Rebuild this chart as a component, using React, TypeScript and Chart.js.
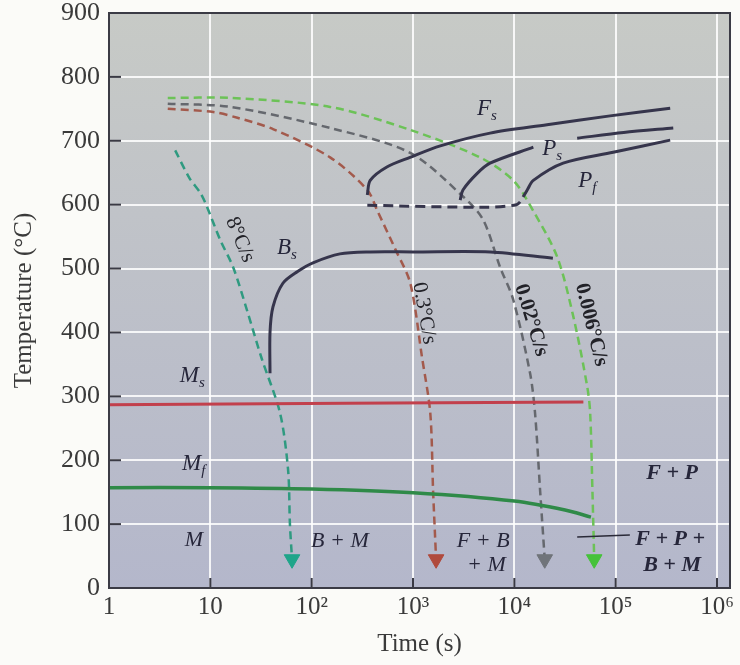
import React, { useEffect, useRef } from "react";
import { Chart, registerables } from "chart.js";

Chart.register(...registerables);

const FONT = "'Liberation Serif', 'Times New Roman', serif";

// Axis ticks
const xTickValues = [1, 10, 100, 1000, 10000, 100000, 1000000];
const xTickLabels = ["1", "10", "10²", "10³", "10⁴", "10⁵", "10⁶"];
const yTickValues = [0, 100, 200, 300, 400, 500, 600, 700, 800, 900];

// Cooling curves (time s, temperature °C)
const rate8Time = [4.5, 6.2, 8, 9.3, 12.5, 16.8, 23.5, 32, 48.7, 58.5, 61, 64];
const rate8Temp = [685, 642, 618, 596, 545, 502, 430, 360, 274, 185, 100, 45];

const rate03Time = [3.8, 10.7, 18.5, 42, 152, 354, 446, 670, 940, 1230, 1480, 1580, 1690];
const rate03Temp = [750, 745, 736, 718, 674, 623, 590, 530, 477, 360, 274, 150, 45];

const rate002Time = [3.8, 15.8, 152, 940, 3150, 4930, 7240, 9760, 14300, 16000, 18000, 19950];
const rate002Temp = [758, 753, 720, 681, 612, 576, 502, 451, 336, 274, 150, 45];

const rate0006Time = [3.8, 15.8, 152, 940, 4590, 9760, 15400, 26500, 38300, 52400, 56000, 59000, 61400];
const rate0006Temp = [767, 767, 753, 717, 674, 638, 590, 518, 424, 315, 274, 150, 45];

// Transformation curves
const fsTime = [354, 378, 552, 935, 1860, 5760, 21000, 88000, 345000];
const fsTemp = [615, 638, 659, 674, 692, 712, 725, 739, 751];

const psTimeA = [2920, 3110, 4300, 5760, 15400];
const psTempA = [607, 623, 649, 665, 690];
const psTimeB = [41700, 120000, 370000];
const psTempB = [704, 713, 720];

const pfTime = [12200, 13400, 15400, 30300, 94500, 345000];
const pfTemp = [612, 623, 638, 665, 682, 701];

const bsTime = [38.8, 38.8, 41.5, 52, 72, 103, 190, 380, 1000, 5800, 24000];
const bsTemp = [336, 400, 440, 477, 495, 509, 523, 526, 526, 526, 516];

const dashTime = [354, 5000, 10500, 12200];
const dashTemp = [599, 596, 600, 610];

const msTime = [1, 48000];
const msTemp = [287, 291];

const mfTime = [1, 10, 100, 1000, 10000, 31600, 57000];
const mfTemp = [157, 157, 155, 149, 136, 122, 111];

const leaderTime = [41700, 138000];
const leaderTemp = [80, 83];

// Text annotations (data coordinates)
const subLabels = [
  { text: "F", sub: "s", t: 4270, T: 740 },
  { text: "P", sub: "s", t: 18800, T: 678 },
  { text: "P", sub: "f", t: 42600, T: 628 },
  { text: "B", sub: "s", t: 45.5, T: 523 },
  { text: "M", sub: "s", t: 5.0, T: 322 },
  { text: "M", sub: "f", t: 5.25, T: 185 },
];
const phaseLabels = [
  { text: "M", t: 6.9, T: 66, bold: false },
  { text: "B + M", t: 190, T: 64, bold: false },
  { text: "F + B", t: 4930, T: 64, bold: false },
  { text: "+ M", t: 5300, T: 27, bold: false },
  { text: "F + P", t: 360000, T: 171, bold: true },
  { text: "F + P +", t: 345000, T: 67, bold: true },
  { text: "B + M", t: 360000, T: 27, bold: true },
];
const rateLabels = [
  { text: "8°C/s", t: 19.6, T: 545, angle: 67, bold: false },
  { text: "0.3°C/s", t: 1290, T: 430, angle: 80, bold: false },
  { text: "0.02°C/s", t: 14650, T: 419, angle: 73, bold: true },
  { text: "0.006°C/s", t: 57300, T: 412, angle: 76, bold: true },
];

const pts = (xs: number[], ys: number[]) => xs.map((x, i) => ({ x, y: ys[i] }));

function solid(label: string, xs: number[], ys: number[], color: string, width = 3) {
  return {
    label,
    data: pts(xs, ys),
    showLine: true,
    borderColor: color,
    borderWidth: width,
    pointRadius: 0,
    tension: 0.3,
    fill: false,
  };
}

function cooling(label: string, xs: number[], ys: number[], color: string, arrow: string) {
  const n = xs.length;
  return {
    label,
    data: pts(xs, ys),
    showLine: true,
    borderColor: color,
    borderWidth: 2.5,
    borderDash: [8, 5],
    tension: 0.3,
    fill: false,
    pointStyle: "triangle",
    rotation: 180,
    pointRadius: xs.map((_, i) => (i === n - 1 ? 9 : 0)),
    pointBackgroundColor: arrow,
    pointBorderColor: arrow,
    pointBorderWidth: 1,
  };
}

const decorPlugin = {
  id: "decor",
  beforeDraw(chart: any) {
    const { ctx, chartArea: a, width, height } = chart;
    ctx.save();
    ctx.fillStyle = "#fbfbf8";
    ctx.fillRect(0, 0, width, height);
    const g = ctx.createLinearGradient(0, a.top, 0, a.bottom);
    g.addColorStop(0, "#c7cac6");
    g.addColorStop(0.35, "#c0c3c8");
    g.addColorStop(1, "#b4b7cb");
    ctx.fillStyle = g;
    ctx.fillRect(a.left, a.top, a.right - a.left, a.bottom - a.top);
    ctx.restore();
  },
  afterDatasetsDraw(chart: any) {
    const { ctx, chartArea: a, scales } = chart;
    const xs = scales.x;
    const ys = scales.y;
    ctx.save();
    // inner tick marks
    ctx.strokeStyle = "#3a3a44";
    ctx.lineWidth = 2;
    yTickValues.forEach((v) => {
      if (v === 0 || v === 900) return;
      const py = ys.getPixelForValue(v);
      ctx.beginPath();
      ctx.moveTo(a.left, py);
      ctx.lineTo(a.left + 12, py);
      ctx.stroke();
    });
    xTickValues.forEach((v) => {
      if (v === 1) return;
      const px = xs.getPixelForValue(v);
      ctx.beginPath();
      ctx.moveTo(px, a.bottom);
      ctx.lineTo(px, a.bottom - 10);
      ctx.stroke();
    });
    // frame
    ctx.strokeStyle = "#3b3b45";
    ctx.lineWidth = 2;
    ctx.strokeRect(a.left, a.top, a.right - a.left, a.bottom - a.top);

    ctx.fillStyle = "#26263a";
    // labels with subscripts
    subLabels.forEach((l) => {
      const px = xs.getPixelForValue(l.t);
      const py = ys.getPixelForValue(l.T);
      ctx.font = `italic 23px ${FONT}`;
      ctx.textAlign = "left";
      ctx.textBaseline = "alphabetic";
      ctx.fillText(l.text, px, py);
      const w = ctx.measureText(l.text).width;
      ctx.font = `italic 15px ${FONT}`;
      ctx.fillText(l.sub, px + w, py + 5);
    });
    // phase region labels
    phaseLabels.forEach((l) => {
      const px = xs.getPixelForValue(l.t);
      const py = ys.getPixelForValue(l.T);
      ctx.font = `italic ${l.bold ? "bold " : ""}22px ${FONT}`;
      ctx.textAlign = "center";
      ctx.textBaseline = "alphabetic";
      ctx.fillText(l.text, px, py);
    });
    // cooling rate labels
    rateLabels.forEach((l) => {
      const px = xs.getPixelForValue(l.t);
      const py = ys.getPixelForValue(l.T);
      ctx.save();
      ctx.translate(px, py);
      ctx.rotate((l.angle * Math.PI) / 180);
      ctx.font = `${l.bold ? "bold " : ""}21px ${FONT}`;
      ctx.textAlign = "center";
      ctx.textBaseline = "middle";
      ctx.fillStyle = "#222228";
      ctx.fillText(l.text, 0, 0);
      ctx.restore();
    });
    ctx.restore();
  },
};

export default function App() {
  const ref = useRef<HTMLCanvasElement | null>(null);

  useEffect(() => {
    if (!ref.current) return;
    const chart = new Chart(ref.current, {
      type: "scatter",
      data: {
        datasets: [
          solid("Ms", msTime, msTemp, "#c2404c", 3),
          solid("Mf", mfTime, mfTemp, "#2f8a48", 3.5),
          solid("Bs", bsTime, bsTemp, "#36354c", 3),
          solid("Fs", fsTime, fsTemp, "#36354c", 3),
          solid("Ps", psTimeA, psTempA, "#36354c", 3),
          solid("Ps2", psTimeB, psTempB, "#36354c", 3),
          solid("Pf", pfTime, pfTemp, "#36354c", 3),
          { ...solid("600", dashTime, dashTemp, "#36354c", 3), borderDash: [10, 6] },
          solid("leader", leaderTime, leaderTemp, "#2a2a38", 1.5),
          cooling("8°C/s", rate8Time, rate8Temp, "#2f9a80", "#1fa58a"),
          cooling("0.3°C/s", rate03Time, rate03Temp, "#a35a4c", "#b04a3c"),
          cooling("0.02°C/s", rate002Time, rate002Temp, "#65686e", "#70747a"),
          cooling("0.006°C/s", rate0006Time, rate0006Temp, "#6cc257", "#45c23a"),
        ] as any,
      },
      options: {
        animation: false,
        responsive: false,
        devicePixelRatio: 1,
        layout: { padding: { top: 13, right: 10, left: 0, bottom: 0 } },
        plugins: {
          legend: { display: false },
          tooltip: { enabled: false },
        },
        scales: {
          x: {
            type: "logarithmic",
            min: 1,
            max: 1.343e6,
            afterBuildTicks: (s: any) => {
              s.ticks = xTickValues.map((v) => ({ value: v }));
            },
            afterFit: (s: any) => {
              s.height = 77;
              s.paddingLeft = 0;
              s.paddingRight = 0;
            },
            ticks: {
              autoSkip: false,
              maxRotation: 0,
              padding: 4,
              color: "#3a3a3a",
              font: { family: FONT, size: 25 },
              callback: (_v: any, i: number) => xTickLabels[i],
            },
            grid: { color: "rgba(255,255,255,0.85)", lineWidth: 2, drawTicks: false },
            border: { display: false },
            title: {
              display: true,
              text: "Time (s)",
              color: "#3a3a3a",
              font: { family: FONT, size: 25 },
              padding: { top: 0, bottom: 6 },
            },
          },
          y: {
            type: "linear",
            min: 0,
            max: 900,
            afterBuildTicks: (s: any) => {
              s.ticks = yTickValues.map((v) => ({ value: v }));
            },
            afterFit: (s: any) => {
              s.width = 109;
              s.paddingTop = 0;
              s.paddingBottom = 0;
            },
            ticks: {
              padding: 9,
              color: "#3a3a3a",
              font: { family: FONT, size: 26 },
              callback: (v: any) => String(v),
            },
            grid: { color: "rgba(255,255,255,0.85)", lineWidth: 2, drawTicks: false },
            border: { display: false },
            title: {
              display: true,
              text: "Temperature (°C)",
              color: "#3a3a3a",
              font: { family: FONT, size: 25 },
              padding: { top: 9, bottom: 0 },
            },
          },
        },
      },
      plugins: [decorPlugin],
    } as any);
    return () => chart.destroy();
  }, []);

  return (
    <canvas
      ref={ref}
      width={740}
      height={665}
      style={{ position: "absolute", left: 0, top: 0, display: "block" }}
    />
  );
}
